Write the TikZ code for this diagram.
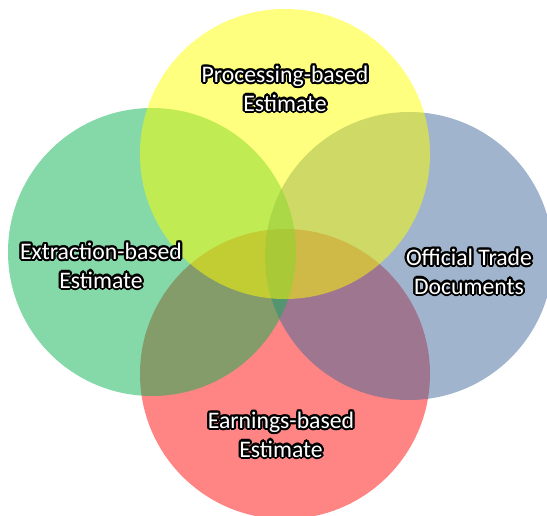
\documentclass[tikz,border=0pt]{standalone}
\usepackage{fontspec}
\setmainfont{Carlito}
\usepackage{contour}
\contourlength{1.2pt}
\definecolor{vyellow}{RGB}{255,255,0}
\definecolor{vgreen}{RGB}{11,179,81}
\definecolor{vblue}{RGB}{65,105,155}
\definecolor{vred}{RGB}{255,11,11}
\newcommand{\outl}[1]{\contour{black}{\textcolor{white}{#1}}}

\begin{document}
\begin{tikzpicture}[x=0.02cm, y=0.02cm, venn/.style={fill opacity=0.5},
    lbl/.style={align=center, font=\fontsize{13.5}{16.4}\selectfont, inner sep=0pt}]
            \useasboundingbox (0,0) rectangle (547,515);
            \coordinate (R) at (285,141); \coordinate (B) at (409,259);
            \coordinate (G) at (152,263); \coordinate (Y) at (285,361);
            \fill[vred, venn] (R) circle (145);
            \fill[vblue, venn] (B) circle (144);
            \fill[vgreen, venn] (G) circle (144);
            \fill[vyellow, venn] (Y) circle (145);
            \node[lbl] (proc) at (285,425.5) {\outl{Processing-based}\\\outl{Estimate}};
            \node[lbl] (extr) at (101,248.5) {\outl{Extraction-based}\\\outl{Estimate}};
            \node[lbl] (trade) at (469,242.5) {\outl{Official Trade}\\\outl{Documents}};
            \node[lbl] (earn) at (281,79.5) {\outl{Earnings-based}\\\outl{Estimate}};
        \end{tikzpicture}
\end{document}
